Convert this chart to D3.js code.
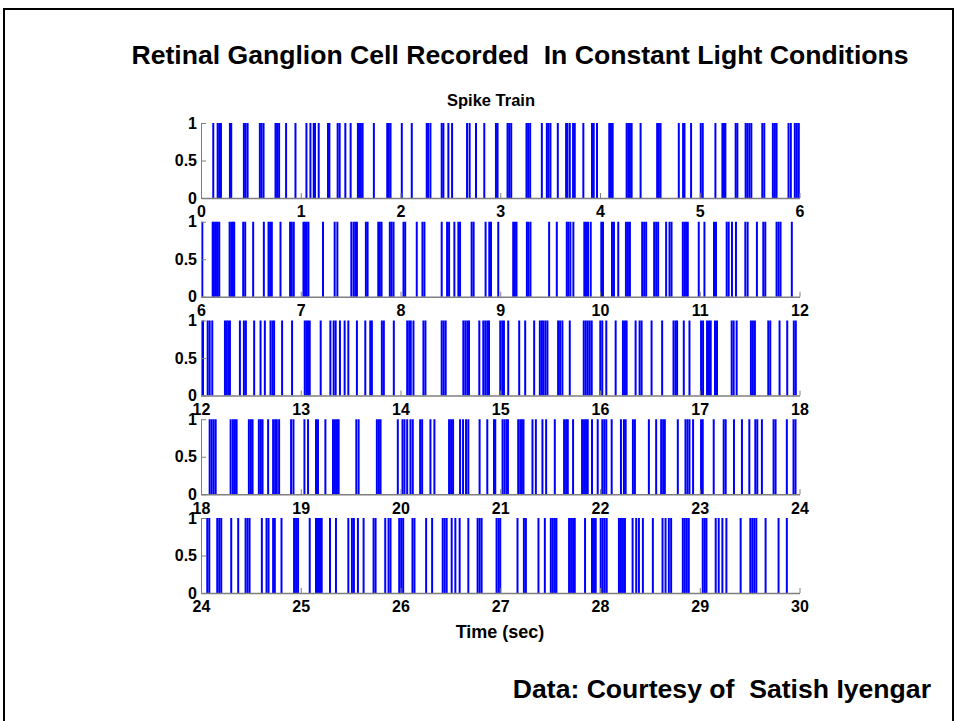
<!DOCTYPE html>
<html>
<head>
<meta charset="utf-8">
<script src="https://cdn.jsdelivr.net/npm/d3@7"></script>
<style>
  html, body { margin: 0; padding: 0; background: #fff; }
  svg { display: block; }
  text { font-family: "Liberation Sans", Arial, Helvetica, sans-serif; font-weight: bold; fill: #000; white-space: pre; }
</style>
</head>
<body>
<svg id="chart" width="956" height="721"></svg>
<script>
// Spike times (seconds) of the recorded retinal ganglion cell, one array per 6 s sweep.
const spikesRow1 = [0.123, 0.167, 0.183, 0.2, 0.29, 0.303, 0.43, 0.447, 0.467, 0.59, 0.607, 0.627,
  0.747, 0.763, 0.783, 0.853, 0.947, 1.057, 1.097, 1.13, 1.143, 1.18, 1.273, 1.287, 1.37, 1.39,
  1.447, 1.5, 1.573, 1.587, 1.603, 1.62, 1.733, 1.867, 1.883, 1.9, 2.013, 2.113, 2.263, 2.277, 2.3,
  2.413, 2.43, 2.48, 2.517, 2.667, 2.693, 2.757, 2.84, 2.957, 2.973,
  3.073, 3.09, 3.11, 3.263, 3.28, 3.3, 3.417, 3.467, 3.483, 3.503, 3.577, 3.66, 3.673, 3.697,
  3.73, 3.747, 3.833, 3.92, 3.937, 3.97, 4.093, 4.11, 4.127, 4.267, 4.283, 4.3, 4.317, 4.407,
  4.573, 4.59, 4.607, 4.79, 4.833, 4.847, 4.913, 5.01, 5.03, 5.157, 5.227, 5.243, 5.257, 5.36,
  5.377, 5.46, 5.477, 5.497, 5.517, 5.627, 5.647, 5.733, 5.753, 5.77, 5.89, 5.913, 5.953, 5.973, 5.993];

const spikesRow2 = [6.013, 6.117, 6.13, 6.15, 6.167, 6.183, 6.287, 6.303, 6.32, 6.333, 6.423, 6.443,
  6.523, 6.63, 6.677, 6.693, 6.71, 6.797, 6.893, 6.91, 6.93, 7.027, 7.043, 7.06, 7.077, 7.223,
  7.34, 7.367, 7.507, 7.53, 7.547, 7.563, 7.653, 7.67, 7.777, 7.793, 7.81, 7.893, 7.91, 7.93,
  8.03, 8.047, 8.163, 8.22, 8.24, 8.413, 8.467, 8.487, 8.54, 8.58, 8.597, 8.713, 8.733, 8.853,
  8.89, 8.907, 8.98,
  9.13, 9.147, 9.163, 9.267, 9.283, 9.303, 9.49, 9.567, 9.667, 9.683, 9.703, 9.733, 9.843, 9.86,
  9.88, 9.907, 10.013, 10.03, 10.12, 10.14, 10.183, 10.26, 10.28, 10.3, 10.423, 10.443, 10.463,
  10.543, 10.563, 10.583, 10.663, 10.697, 10.717, 10.83, 10.847, 10.863, 10.88, 10.99, 11.047,
  11.143, 11.163, 11.27, 11.29, 11.323, 11.363, 11.457, 11.48, 11.573, 11.637, 11.657, 11.77,
  11.79, 11.81, 11.923];

const spikesRow3 = [12.02, 12.067, 12.087, 12.113, 12.24, 12.257, 12.273, 12.29, 12.39, 12.43, 12.45,
  12.533, 12.597, 12.64, 12.697, 12.717, 12.733, 12.813, 12.913, 13.04, 13.057, 13.073, 13.09,
  13.2, 13.297, 13.33, 13.35, 13.393, 13.44, 13.477, 13.563, 13.647, 13.697, 13.713, 13.813,
  13.833, 13.933, 14.067, 14.087, 14.103, 14.13, 14.23, 14.25, 14.413, 14.433, 14.453, 14.63,
  14.65, 14.67, 14.687, 14.79, 14.83, 14.85, 14.87, 14.887,
  15.0, 15.02, 15.037, 15.08, 15.19, 15.25, 15.34, 15.397, 15.417, 15.433, 15.453, 15.473, 15.58,
  15.6, 15.623, 15.697, 15.837, 15.857, 15.877, 15.897, 15.917, 16.003, 16.023, 16.063, 16.157,
  16.23, 16.25, 16.267, 16.357, 16.397, 16.417, 16.517, 16.623, 16.737, 16.757, 16.773, 16.84,
  16.897, 17.013, 17.033, 17.073, 17.093, 17.11, 17.153, 17.173, 17.32, 17.34, 17.37, 17.513,
  17.533, 17.553, 17.687, 17.707, 17.8, 17.877, 17.943, 17.963];

const spikesRow4 = [18.087, 18.107, 18.127, 18.147, 18.297, 18.32, 18.34, 18.357, 18.48, 18.5, 18.517,
  18.58, 18.6, 18.617, 18.673, 18.723, 18.743, 18.76, 18.783, 18.903, 18.927, 19.037, 19.073,
  19.153, 19.173, 19.247, 19.323, 19.343, 19.363, 19.38, 19.557, 19.58, 19.763, 19.783, 19.8,
  19.973, 20.02, 20.04, 20.067, 20.1, 20.123, 20.197, 20.217, 20.3, 20.34, 20.487, 20.507,
  20.527, 20.597, 20.627, 20.657, 20.68, 20.793, 20.87, 20.937, 20.95,
  21.023, 21.043, 21.063, 21.077, 21.18, 21.2, 21.217, 21.233, 21.323, 21.357, 21.423, 21.46,
  21.547, 21.64, 21.66, 21.677, 21.73, 21.82, 21.84, 21.86, 21.877, 21.92, 21.977, 22.023,
  22.043, 22.063, 22.117, 22.21, 22.24, 22.257, 22.33, 22.35, 22.49, 22.563, 22.613, 22.633,
  22.65, 22.78, 22.857, 22.877, 22.897, 22.933, 23.013, 23.03, 23.14, 23.24, 23.26, 23.343,
  23.423, 23.497, 23.557, 23.577, 23.623, 23.74, 23.76, 23.873, 23.94, 23.96];

const spikesRow5 = [24.063, 24.083, 24.163, 24.183, 24.203, 24.303, 24.373, 24.447, 24.467, 24.487,
  24.61, 24.657, 24.677, 24.723, 24.74, 24.807, 24.933, 24.953, 24.973, 25.09, 25.153, 25.173,
  25.193, 25.21, 25.293, 25.353, 25.477, 25.513, 25.533, 25.573, 25.63, 25.73, 25.75, 25.847,
  25.88, 25.9, 25.987, 26.007, 26.027, 26.12, 26.14, 26.257, 26.317, 26.423, 26.443, 26.463,
  26.513, 26.55, 26.593, 26.68, 26.773, 26.793, 26.813, 26.963, 26.983, 27.0,
  27.173, 27.237, 27.257, 27.383, 27.447, 27.507, 27.527, 27.547, 27.563, 27.69, 27.71, 27.73,
  27.747, 27.85, 27.92, 27.94, 27.957, 28.007, 28.027, 28.047, 28.067, 28.19, 28.21, 28.23,
  28.25, 28.327, 28.363, 28.39, 28.43, 28.53, 28.627, 28.657, 28.69, 28.713, 28.83, 28.85,
  28.87, 28.89, 29.03, 29.05, 29.067, 29.16, 29.19, 29.227, 29.267, 29.41, 29.507, 29.527,
  29.547, 29.567, 29.66, 29.79, 29.873];

const sweepStarts = [0, 6, 12, 18, 24];
const sweepLength = 6;
const yTickValues = [0, 0.5, 1];
const yTickLabels = ["0", "0.5", "1"];

const titleText = "Retinal Ganglion Cell Recorded  In Constant Light Conditions";
const subtitleText = "Spike Train";
const xAxisTitle = "Time (sec)";
const creditText = "Data: Courtesy of  Satish Iyengar";

const rows = [spikesRow1, spikesRow2, spikesRow3, spikesRow4, spikesRow5];

const svg = d3.select("#chart");

// slide frame
svg.append("rect")
  .attr("x", 4).attr("y", 9)
  .attr("width", 949).attr("height", 730)
  .attr("fill", "none").attr("stroke", "#000").attr("stroke-width", 2);

svg.append("text")
  .attr("x", 520).attr("y", 64)
  .attr("text-anchor", "middle")
  .style("font-size", "26.6px")
  .text(titleText);

svg.append("text")
  .attr("x", 491).attr("y", 106)
  .attr("text-anchor", "middle")
  .style("font-size", "16.5px")
  .text(subtitleText);

const plotLeft = 201, plotRight = 799.5;
const panelTop0 = 123, panelStep = 98.75, panelHeight = 75;
const axisColor = "#7f7f7f";

rows.forEach((spikes, i) => {
  const start = sweepStarts[i];
  const top = panelTop0 + i * panelStep;
  const x = d3.scaleLinear().domain([start, start + sweepLength]).range([plotLeft, plotRight]);
  const y = d3.scaleLinear().domain([0, 1]).range([top + panelHeight, top]);

  const g = svg.append("g");

  // spikes
  g.append("g").selectAll("line")
    .data(spikes)
    .join("line")
    .attr("x1", d => x(d)).attr("x2", d => x(d))
    .attr("y1", y(0)).attr("y2", y(1))
    .attr("stroke", "#0000ff")
    .attr("stroke-width", 2);

  // y axis (ticks pointing inward)
  const yAxis = g.append("g")
    .attr("transform", `translate(${plotLeft},0)`)
    .call(d3.axisLeft(y).tickValues(yTickValues)
      .tickFormat((d, k) => yTickLabels[k])
      .tickSizeInner(-5).tickSizeOuter(0).tickPadding(4));
  yAxis.select(".domain").attr("stroke", axisColor);
  yAxis.selectAll(".tick line").attr("stroke", axisColor);
  yAxis.selectAll(".tick text").style("font-size", "16px").attr("font-family", null).attr("fill", "#000");

  // x axis (ticks pointing inward)
  const xAxis = g.append("g")
    .attr("transform", `translate(0,${y(0)})`)
    .call(d3.axisBottom(x).ticks(6).tickFormat(d3.format("d"))
      .tickSizeInner(-5).tickSizeOuter(0).tickPadding(8));
  xAxis.select(".domain").attr("stroke", axisColor).attr("stroke-width", 1.5);
  xAxis.selectAll(".tick line").attr("stroke", axisColor);
  xAxis.selectAll(".tick text").style("font-size", "16px").attr("font-family", null).attr("fill", "#000");
});

svg.append("text")
  .attr("x", 500).attr("y", 638)
  .attr("text-anchor", "middle")
  .style("font-size", "18px")
  .text(xAxisTitle);

svg.append("text")
  .attr("x", 931).attr("y", 698)
  .attr("text-anchor", "end")
  .style("font-size", "26.6px")
  .text(creditText);
</script>
</body>
</html>
